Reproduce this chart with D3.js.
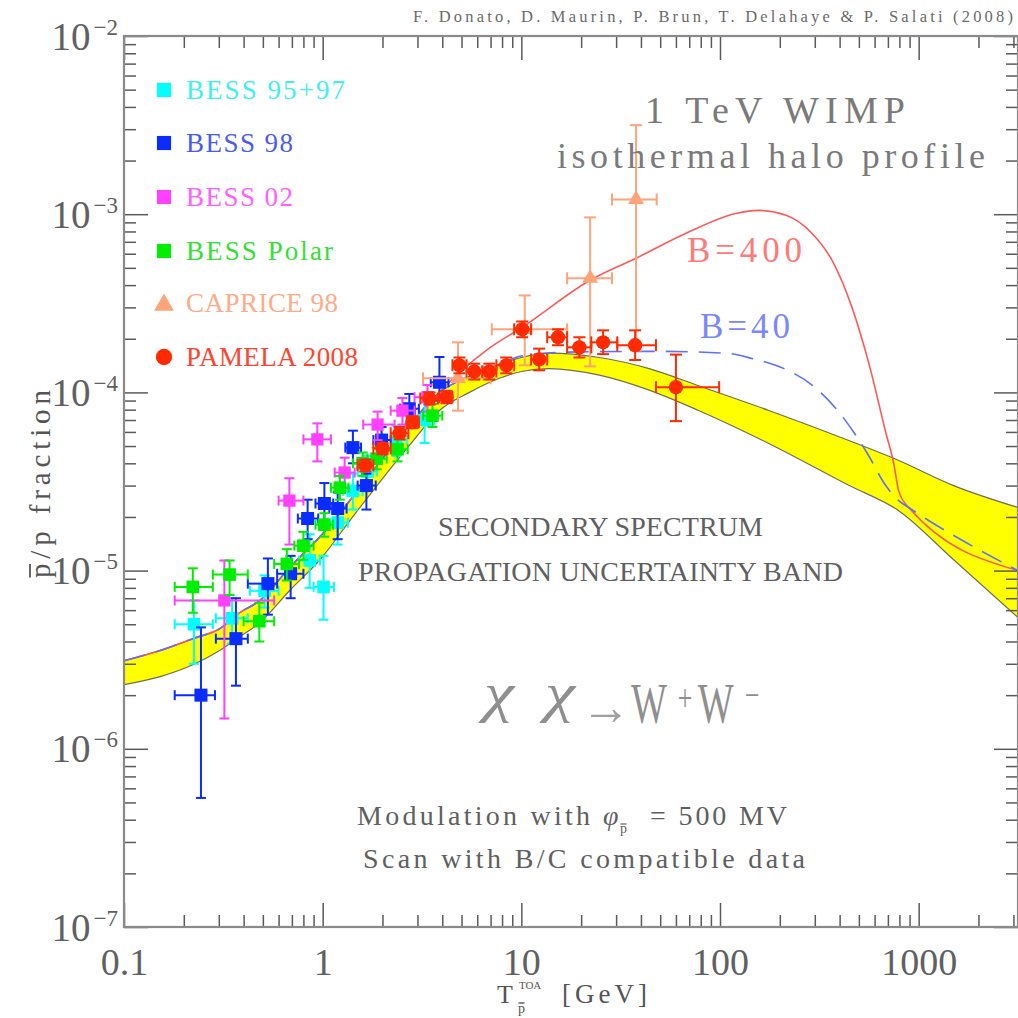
<!DOCTYPE html>
<html>
<head>
<meta charset="utf-8">
<script src="https://cdn.jsdelivr.net/npm/d3@7"></script>
<style>
  html, body { margin: 0; padding: 0; background: #ffffff; }
  svg { display: block; }
  text { font-family: "Liberation Serif", "Times New Roman", serif; }
</style>
</head>
<body>
<svg id="chart" width="1018" height="1018"></svg>
<script>
// ---------------- axis ticks ----------------
const xMajor = [0.1, 1, 10, 100, 1000];
const xTickLabels = ["0.1", "1", "10", "100", "1000"];
const yMajor = [1e-2, 1e-3, 1e-4, 1e-5, 1e-6, 1e-7];
const yTickExponents = ["\u22122", "\u22123", "\u22124", "\u22125", "\u22126", "\u22127"];

// ---------------- secondary pbar/p propagation band ----------------
const bandE    = [0.1, 0.152, 0.222, 0.303, 0.383, 0.482, 0.682, 1.0, 1.37, 1.93, 2.73, 3.87, 5.48, 7.75, 10, 13.8, 24.7, 44, 78, 176, 445, 793, 1500, 3162];
const bandHigh = [3.12e-6, 3.56e-6, 4.15e-6, 4.72e-6, 5.81e-6, 6.78e-6, 1.04e-5, 1.61e-5, 2.47e-5, 4.04e-5, 6.53e-5, 1.0e-4, 1.23e-4, 1.44e-4, 1.57e-4, 1.66e-4, 1.57e-4, 1.36e-4, 1.09e-4, 7.92e-5, 5.37e-5, 4.15e-5, 3.0e-5, 2.26e-5];
const bandLow  = [2.29e-6, 2.54e-6, 2.96e-6, 3.56e-6, 4.26e-6, 5.10e-6, 7.73e-6, 1.20e-5, 1.91e-5, 3.12e-5, 5.04e-5, 7.92e-5, 1.0e-4, 1.20e-4, 1.31e-4, 1.36e-4, 1.25e-4, 1.03e-4, 7.92e-5, 5.17e-5, 3.01e-5, 2.17e-5, 1.15e-5, 5.45e-6];

// ---------------- secondary + 1 TeV WIMP signal ----------------
const b400E = [0.1, 0.152, 0.222, 0.303, 0.383, 0.482, 0.682, 1.0, 1.37, 1.93, 2.73, 3.87, 4.88, 6.9, 10.1, 22.2, 37.8, 67.5, 120, 157, 215, 290, 366, 461, 561, 683, 749, 793, 891, 3162];
const b400V = [3.12e-6, 3.56e-6, 4.15e-6, 4.72e-6, 5.81e-6, 6.78e-6, 1.04e-5, 1.61e-5, 2.47e-5, 4.04e-5, 6.53e-5, 1.0e-4, 1.29e-4, 1.77e-4, 2.32e-4, 4.26e-4, 5.66e-4, 7.82e-4, 1.01e-3, 1.05e-3, 9.87e-4, 7.82e-4, 5.52e-4, 3.01e-4, 1.46e-4, 5.96e-5, 3.99e-5, 2.81e-5, 2.26e-5, 1.0e-5];
const b40E  = [0.1, 0.152, 0.222, 0.303, 0.383, 0.482, 0.682, 1.0, 1.37, 1.93, 2.73, 3.87, 5.48, 7.75, 10, 16.1, 45.5, 107, 145, 210, 297, 420, 548, 683, 793, 891, 3162];
const b40V  = [3.12e-6, 3.56e-6, 4.15e-6, 4.72e-6, 5.81e-6, 6.78e-6, 1.04e-5, 1.61e-5, 2.47e-5, 4.04e-5, 6.53e-5, 1.0e-4, 1.23e-4, 1.44e-4, 1.60e-4, 1.68e-4, 1.70e-4, 1.66e-4, 1.55e-4, 1.36e-4, 1.08e-4, 7.15e-5, 4.6e-5, 3.0e-5, 2.47e-5, 2.26e-5, 1.0e-5];

// ---------------- measurements: [T, Tmin, Tmax, ratio, ratioMin, ratioMax] ----------------
const bess9597 = [
  [0.225, 0.18, 0.28, 5.0e-6, 3.0e-6, 6.8e-6],
  [0.35, 0.29, 0.42, 5.4e-6, 3.9e-6, 7.0e-6],
  [0.51, 0.43, 0.60, 7.7e-6, 6.2e-6, 9.4e-6],
  [0.86, 0.76, 0.97, 1.14e-5, 8.0e-6, 1.6e-5],
  [1.01, 0.90, 1.14, 8.1e-6, 5.3e-6, 1.21e-5],
  [1.19, 1.06, 1.34, 1.86e-5, 1.4e-5, 2.35e-5],
  [1.42, 1.27, 1.59, 2.8e-5, 2.2e-5, 3.5e-5],
  [1.68, 1.50, 1.88, 3.6e-5, 2.9e-5, 4.4e-5],
  [2.35, 2.10, 2.65, 5.4e-5, 4.4e-5, 6.5e-5],
  [3.26, 2.90, 3.65, 7.0e-5, 5.2e-5, 8.8e-5]
];
const bess98 = [
  [0.244, 0.18, 0.287, 2.0e-6, 5.3e-7, 4.8e-6],
  [0.366, 0.29, 0.42, 4.15e-6, 2.26e-6, 7.0e-6],
  [0.53, 0.42, 0.59, 8.45e-6, 5.66e-6, 1.17e-5],
  [0.69, 0.59, 0.80, 9.6e-6, 7.0e-6, 1.21e-5],
  [0.84, 0.75, 0.95, 1.96e-5, 1.5e-5, 2.5e-5],
  [1.02, 0.92, 1.13, 2.38e-5, 1.8e-5, 3.1e-5],
  [1.19, 1.08, 1.32, 2.23e-5, 1.5e-5, 2.75e-5],
  [1.42, 1.30, 1.56, 4.9e-5, 4.0e-5, 6.1e-5],
  [1.66, 1.50, 1.85, 3.0e-5, 2.2e-5, 3.5e-5],
  [1.98, 1.80, 2.20, 5.4e-5, 4.5e-5, 6.4e-5],
  [2.73, 2.45, 3.05, 8.1e-5, 6.6e-5, 9.8e-5],
  [3.87, 3.50, 4.30, 1.14e-4, 9.0e-5, 1.58e-4]
];
const bess02 = [
  [0.32, 0.18, 0.57, 6.8e-6, 1.48e-6, 1.14e-5],
  [0.68, 0.60, 0.80, 2.47e-5, 1.4e-5, 3.3e-5],
  [0.94, 0.80, 1.10, 5.45e-5, 4.1e-5, 6.7e-5],
  [1.29, 1.15, 1.45, 3.55e-5, 2.9e-5, 4.3e-5],
  [1.89, 1.60, 2.30, 6.6e-5, 5.4e-5, 7.8e-5],
  [2.52, 2.20, 2.90, 7.9e-5, 6.6e-5, 9.3e-5],
  [3.37, 2.90, 3.90, 9.4e-5, 7.8e-5, 1.1e-4]
];
const bessPolar = [
  [0.222, 0.18, 0.28, 8.1e-6, 5.8e-6, 1.03e-5],
  [0.34, 0.28, 0.42, 9.5e-6, 7.3e-6, 1.14e-5],
  [0.48, 0.40, 0.57, 5.2e-6, 4.0e-6, 6.6e-6],
  [0.66, 0.57, 0.76, 1.09e-5, 8.8e-6, 1.32e-5],
  [0.80, 0.72, 0.90, 1.38e-5, 1.15e-5, 1.65e-5],
  [1.02, 0.92, 1.13, 1.81e-5, 1.55e-5, 2.1e-5],
  [1.22, 1.10, 1.35, 2.92e-5, 2.5e-5, 3.4e-5],
  [1.59, 1.42, 1.78, 4.0e-5, 3.4e-5, 4.6e-5],
  [1.87, 1.68, 2.10, 4.25e-5, 3.7e-5, 4.9e-5],
  [2.38, 2.12, 2.68, 4.8e-5, 4.1e-5, 5.6e-5],
  [3.57, 3.20, 4.00, 7.4e-5, 6.4e-5, 8.6e-5]
];
const caprice98 = [
  [4.8, 3.2, 7.0, 1.2e-4, 7.9e-5, 1.91e-4],
  [10.4, 7.1, 17.0, 2.26e-4, 1.42e-4, 3.5e-4],
  [22.2, 17.0, 28.6, 4.37e-4, 1.4e-4, 9.6e-4],
  [37.8, 28.6, 48.0, 1.21e-3, 1.72e-4, 3.16e-3]
];
const pamela2008 = [
  [1.64, 1.5, 1.8, 3.9e-5, 3.6e-5, 4.2e-5],
  [2.0, 1.8, 2.2, 4.85e-5, 4.5e-5, 5.2e-5],
  [2.44, 2.2, 2.7, 5.9e-5, 5.45e-5, 6.4e-5],
  [2.83, 2.65, 3.05, 6.8e-5, 6.3e-5, 7.35e-5],
  [3.45, 3.1, 3.8, 9.25e-5, 8.55e-5, 1.0e-4],
  [4.2, 3.85, 4.5, 9.4e-5, 8.7e-5, 1.02e-4],
  [4.88, 4.5, 5.3, 1.42e-4, 1.28e-4, 1.57e-4],
  [5.8, 5.3, 6.37, 1.31e-4, 1.18e-4, 1.45e-4],
  [6.9, 6.37, 7.49, 1.31e-4, 1.18e-4, 1.45e-4],
  [8.4, 7.49, 9.2, 1.42e-4, 1.28e-4, 1.57e-4],
  [10.1, 9.2, 11.2, 2.26e-4, 2.04e-4, 2.5e-4],
  [12.3, 11.2, 13.5, 1.53e-4, 1.33e-4, 1.76e-4],
  [15.3, 13.5, 17.0, 2.04e-4, 1.84e-4, 2.26e-4],
  [19.6, 17.0, 22.5, 1.79e-4, 1.57e-4, 2.04e-4],
  [25.8, 22.5, 30.4, 1.91e-4, 1.64e-4, 2.23e-4],
  [37.4, 30.4, 47.6, 1.84e-4, 1.52e-4, 2.23e-4],
  [60, 47.6, 99, 1.07e-4, 6.9e-5, 1.63e-4]
];

const seriesNames = ["BESS 95+97", "BESS 98", "BESS 02", "BESS Polar", "CAPRICE 98", "PAMELA 2008"];
const seriesData = [bess9597, bess98, bess02, bessPolar, caprice98, pamela2008];

(function draw() {
  const seriesStyle = [
    { color: "#00ffff", text: "#3ff0f0", symbol: d3.symbolSquare,   size: 160, cap: 5, textLen: 159 },
    { color: "#0a2cff", text: "#4a5cf0", symbol: d3.symbolSquare,   size: 170, cap: 5, textLen: 107 },
    { color: "#ff40ff", text: "#ff60ff", symbol: d3.symbolSquare,   size: 150, cap: 5, textLen: 107 },
    { color: "#00ee00", text: "#33e033", symbol: d3.symbolSquare,   size: 160, cap: 5, textLen: 147 },
    { color: "#ffa37a", text: "#ffab88", symbol: d3.symbolTriangle, size: 110, cap: 6, textLen: 152 },
    { color: "#ff2a00", text: "#ff4530", symbol: d3.symbolCircle,   size: 160, cap: 6, textLen: 172 }
  ];

  const svg = d3.select("#chart");
  const pL = 124, pR = 1018, pT = 36, pB = 927;

  const x = d3.scaleLog().domain([0.1, 3162.28]).range([pL, pR]);
  const y = d3.scaleLog().domain([1e-7, 1e-2]).range([pB, pT]);

  svg.append("rect").attr("width", 1018).attr("height", 1018).attr("fill", "#ffffff");

  svg.append("defs").append("clipPath").attr("id", "plotClip")
    .append("rect").attr("x", pL).attr("y", pT)
    .attr("width", pR - pL).attr("height", pB - pT);

  const plot = svg.append("g").attr("clip-path", "url(#plotClip)");

  // ---- propagation uncertainty band ----
  const bandRows = bandE.map((e, i) => ({ e, lo: bandLow[i], hi: bandHigh[i] }));
  plot.append("path").datum(bandRows)
    .attr("d", d3.area().x(d => x(d.e)).y0(d => y(d.lo)).y1(d => y(d.hi)).curve(d3.curveMonotoneX))
    .attr("fill", "#ffff00");
  ["lo", "hi"].forEach(k => {
    plot.append("path").datum(bandRows)
      .attr("d", d3.line().x(d => x(d.e)).y(d => y(d[k])).curve(d3.curveMonotoneX))
      .attr("fill", "none").attr("stroke", "#6f6f55").attr("stroke-width", 1.2);
  });

  // ---- signal + background curves ----
  const curveLine = d3.line().x(d => x(d[0])).y(d => y(d[1])).curve(d3.curveMonotoneX);
  plot.append("path").datum(b400E.map((e, i) => [e, b400V[i]]))
    .attr("d", curveLine).attr("fill", "none")
    .attr("stroke", "#ff5a5a").attr("stroke-width", 1.6);
  plot.append("path").datum(b40E.map((e, i) => [e, b40V[i]]))
    .attr("d", curveLine).attr("fill", "none")
    .attr("stroke", "#5f6fff").attr("stroke-width", 1.6)
    .attr("stroke-dasharray", "22,11");

  // ---- data points with error bars ----
  seriesData.forEach((rows, si) => {
    const st = seriesStyle[si];
    const g = plot.append("g").attr("stroke", st.color).attr("fill", st.color);
    rows.forEach(r => {
      const [t, tmin, tmax, v, vmin, vmax] = r;
      const cx = x(t), cy = y(v);
      const pg = g.append("g").attr("stroke-width", 2);
      pg.append("line").attr("x1", cx).attr("x2", cx).attr("y1", y(vmin)).attr("y2", y(vmax));
      pg.append("line").attr("x1", cx - st.cap).attr("x2", cx + st.cap).attr("y1", y(vmin)).attr("y2", y(vmin));
      pg.append("line").attr("x1", cx - st.cap).attr("x2", cx + st.cap).attr("y1", y(vmax)).attr("y2", y(vmax));
      pg.append("line").attr("x1", x(tmin)).attr("x2", x(tmax)).attr("y1", cy).attr("y2", cy);
      pg.append("line").attr("x1", x(tmin)).attr("x2", x(tmin)).attr("y1", cy - st.cap).attr("y2", cy + st.cap);
      pg.append("line").attr("x1", x(tmax)).attr("x2", x(tmax)).attr("y1", cy - st.cap).attr("y2", cy + st.cap);
      g.append("path")
        .attr("d", d3.symbol().type(st.symbol).size(st.size)())
        .attr("transform", `translate(${cx},${cy})`)
        .attr("stroke", "none");
    });
  });

  // ---------------- frame and axes ----------------
  function minorTicks(lo, hi) {
    const out = [];
    for (let p = Math.round(Math.log10(lo)); Math.pow(10, p) < hi; p++) {
      const d = Math.pow(10, p);
      for (let k = 2; k <= 9; k++) {
        const v = k * d;
        if (v <= hi * 1.0001) out.push(v);
      }
    }
    return out;
  }
  const xMinor = minorTicks(0.1, 3162.28);
  const yMinor = minorTicks(1e-7, 1e-2);

  function tidy(g) {
    g.select(".domain").remove();
    g.selectAll(".tick line").attr("stroke", "#5a5a5a").attr("stroke-width", 1.5);
  }

  svg.append("g").attr("transform", `translate(0,${pB})`)
    .call(d3.axisBottom(x).tickValues(xMinor).tickSize(-12).tickSizeOuter(0).tickFormat(""))
    .call(tidy);
  const xLab = svg.append("g").attr("transform", `translate(0,${pB})`)
    .call(d3.axisBottom(x).tickValues(xMajor).tickSize(-24).tickSizeOuter(0).tickPadding(21)
      .tickFormat((d, i) => xTickLabels[i]))
    .call(tidy);
  xLab.selectAll("text").attr("font-family", "Liberation Serif, serif")
    .attr("font-size", 38).attr("fill", "#606060");

  svg.append("g").attr("transform", `translate(0,${pT})`)
    .call(d3.axisTop(x).tickValues(xMinor).tickSize(-12).tickSizeOuter(0).tickFormat(""))
    .call(tidy);
  svg.append("g").attr("transform", `translate(0,${pT})`)
    .call(d3.axisTop(x).tickValues(xMajor).tickSize(-24).tickSizeOuter(0).tickFormat(""))
    .call(tidy);

  svg.append("g").attr("transform", `translate(${pL},0)`)
    .call(d3.axisLeft(y).tickValues(yMinor).tickSize(-12).tickSizeOuter(0).tickFormat(""))
    .call(tidy);
  const yLab = svg.append("g").attr("transform", `translate(${pL},0)`)
    .call(d3.axisLeft(y).tickValues(yMajor).tickSize(-24).tickSizeOuter(0).tickPadding(6)
      .tickFormat(() => ""))
    .call(tidy);
  yLab.selectAll("text").each(function (d, i) {
    const t = d3.select(this)
      .attr("font-family", "Liberation Serif, serif")
      .attr("font-size", 39).attr("fill", "#606060").attr("dy", 13);
    t.append("tspan").text("10");
    t.append("tspan").attr("font-size", 23).attr("dx", 3).attr("dy", -15).text(yTickExponents[i]);
  });

  svg.append("g").attr("transform", `translate(${pR},0)`)
    .call(d3.axisRight(y).tickValues(yMinor).tickSize(-12).tickSizeOuter(0).tickFormat(""))
    .call(tidy);
  svg.append("g").attr("transform", `translate(${pR},0)`)
    .call(d3.axisRight(y).tickValues(yMajor).tickSize(-24).tickSizeOuter(0).tickFormat(""))
    .call(tidy);

  svg.append("rect").attr("x", pL).attr("y", pT)
    .attr("width", pR - pL).attr("height", pB - pT)
    .attr("fill", "none").attr("stroke", "#8a8a8a").attr("stroke-width", 2.2);

  // ---------------- text helpers ----------------
  function label(parent, str, x0, yb, size, color, len, extra) {
    const t = parent.append("text")
      .attr("x", x0).attr("y", yb)
      .attr("font-size", size).attr("fill", color)
      .text(str);
    if (len) t.attr("textLength", len).attr("lengthAdjust", "spacing");
    if (extra) extra(t);
    return t;
  }
  function squeeze(len) {
    return t => t.attr("textLength", len).attr("lengthAdjust", "spacingAndGlyphs");
  }
  function barOver(parent, textSel, charIndex, lift, color, width) {
    const ext = textSel.node().getExtentOfChar(charIndex);
    const yb = +textSel.attr("y") - lift;
    parent.append("line")
      .attr("x1", ext.x + 0.5).attr("x2", ext.x + ext.width - 0.5)
      .attr("y1", yb).attr("y2", yb)
      .attr("stroke", color).attr("stroke-width", width);
  }

  label(svg, "F. Donato, D. Maurin, P. Brun, T. Delahaye & P. Salati (2008)",
    413, 22, 16.5, "#6a6a6a", 600);

  // legend
  const legend = svg.append("g");
  const legendRowY = [90, 143, 197, 251, 303, 357];
  seriesNames.forEach((name, i) => {
    const st = seriesStyle[i];
    const sz = st.symbol === d3.symbolSquare ? 200 : (st.symbol === d3.symbolCircle ? 210 : 170);
    legend.append("path")
      .attr("d", d3.symbol().type(st.symbol).size(sz)())
      .attr("transform", `translate(164,${legendRowY[i] + (st.symbol === d3.symbolTriangle ? 2 : 0)})`)
      .attr("fill", st.color);
    label(legend, name, 186, legendRowY[i] + 9, 27, st.text, st.textLen);
  });

  // model annotations
  label(svg, "1 TeV WIMP", 645, 123, 38, "#7a7a7a", 260);
  label(svg, "isothermal halo profile", 557, 168, 36, "#7a7a7a", 428);
  label(svg, "B=400", 687, 262, 35, "#ff7a7a", 115);
  label(svg, "B=40", 700, 338, 35, "#7a88ff", 90);

  label(svg, "SECONDARY SPECTRUM", 438, 536, 28, "#5f5f5f", 325);
  label(svg, "PROPAGATION UNCERTAINTY BAND", 358, 581, 28, "#5f5f5f", 485);

  // annihilation channel: chi chi -> W+ W-
  const italic = t => t.attr("font-style", "italic");
  const chanCol = "#8f8f8f";
  label(svg, "\u03c7", 484, 711, 54, chanCol, null, t => { italic(t); squeeze(30)(t); });
  label(svg, "\u03c7", 545, 711, 54, chanCol, null, t => { italic(t); squeeze(30)(t); });
  label(svg, "\u2192", 581, 724, 50, "#a0a0a0", null,
    t => t.attr("font-family", "DejaVu Sans, sans-serif"));
  const ww = svg.append("text")
    .attr("transform", "translate(631,723) scale(0.68,1)")
    .attr("font-size", 56).attr("fill", chanCol);
  ww.append("tspan").text("W");
  ww.append("tspan").attr("font-size", 38).attr("dx", 16).attr("dy", -12).text("+");
  ww.append("tspan").attr("dx", 8).attr("dy", 12).text("W");
  ww.append("tspan").attr("font-size", 38).attr("dx", 16).attr("dy", -15).text("\u2212");

  // modulation notes
  label(svg, "Modulation with", 357, 825, 28, "#5f5f5f", 233);
  label(svg, "\u03c6", 603, 825, 28, "#5f5f5f", null, italic);
  const phiSub = label(svg, "p", 620, 833, 14, "#5f5f5f");
  barOver(svg, phiSub, 0, 9, "#5f5f5f", 1.2);
  label(svg, "= 500 MV", 650, 825, 28, "#5f5f5f", 137);
  label(svg, "Scan with B/C compatible data", 363, 868, 28, "#5f5f5f", 442);

  // x axis title: T with TOA superscript and pbar subscript
  const xt = svg.append("g");
  const tText = xt.append("text").attr("x", 497).attr("y", 1003)
    .attr("font-size", 26).attr("fill", "#555");
  tText.append("tspan").text("T");
  tText.append("tspan").attr("font-size", 11).attr("dx", 6).attr("dy", -14).text("TOA");
  tText.append("tspan").attr("font-size", 14).attr("x", 518).attr("dy", 24).text("p");
  const pExt = tText.node().getExtentOfChar(4);
  xt.append("line")
    .attr("x1", pExt.x + 0.5).attr("x2", pExt.x + pExt.width - 0.5)
    .attr("y1", 1003).attr("y2", 1003)
    .attr("stroke", "#555").attr("stroke-width", 1.4);
  label(xt, "[GeV]", 562, 1003, 27, "#555", 85);

  // y axis title
  const yt = svg.append("g").attr("transform", "translate(50,484) rotate(-90)");
  const yTitle = yt.append("text").attr("x", -94).attr("y", 0)
    .attr("font-size", 29).attr("fill", "#555")
    .attr("textLength", 188).attr("lengthAdjust", "spacing")
    .text("p/p fraction");
  barOver(yt, yTitle, 0, 20, "#555", 1.8);
})();
</script>
</body>
</html>
